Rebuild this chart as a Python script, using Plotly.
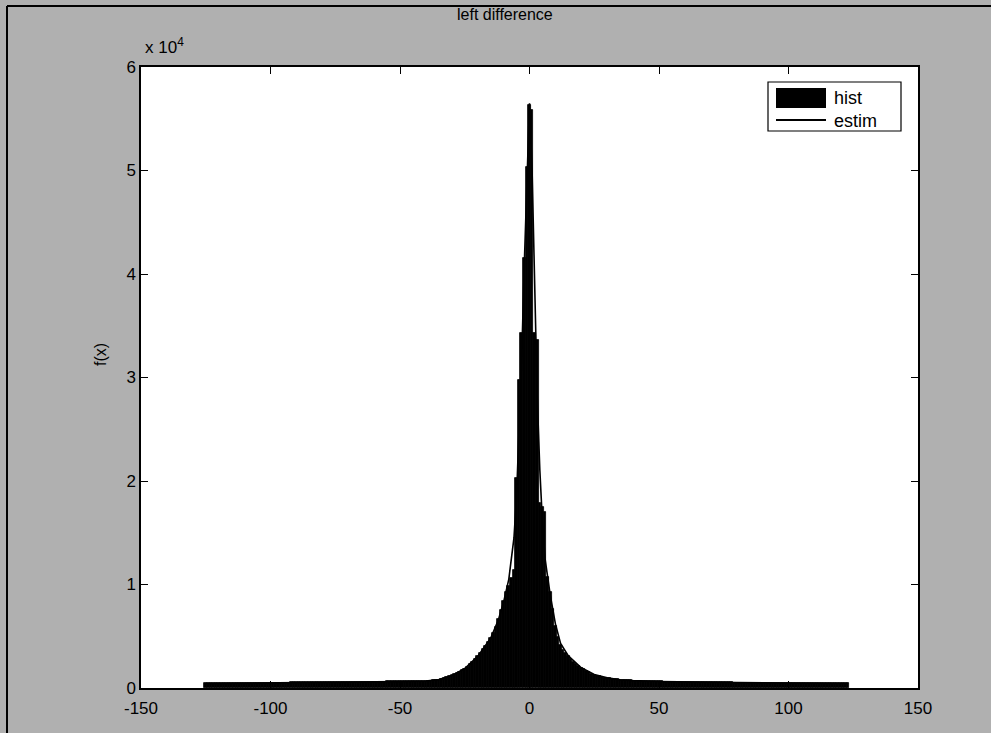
import plotly.graph_objects as go

# histogram counts, integer bins; left part ends at bin -1, right part starts at bin 0
hist_left = [
    450, 455, 455, 460, 460, 465, 465, 470, 470, 475, 475, 480, 480, 485, 485, 490, 490, 495, 495, 500,
    500, 505, 505, 510, 510, 515, 515, 520, 520, 525, 525, 530, 530, 535, 535, 540, 540, 545, 550, 550,
    555, 555, 560, 560, 565, 565, 570, 570, 575, 575, 580, 580, 585, 585, 590, 590, 595, 595, 600, 600,
    605, 605, 610, 610, 615, 615, 620, 620, 625, 625, 630, 630, 635, 635, 640, 640, 645, 645, 650, 650,
    655, 660, 665, 670, 675,
    685, 700, 715, 735, 770, 820, 880, 950, 1030, 1120,
    1220, 1330, 1450, 1580, 1720, 1880, 2060, 2280, 2520, 2790,
    3080, 3400, 3750, 4100, 4450, 4850, 5300, 5900, 6700, 7500,
    8400, 9300, 9900, 10600, 11400, 20300, 29800, 34300, 41500, 50300,
]
hist_right = [
    56300, 55800, 34300, 33600, 17900, 17500, 17000, 10700, 9300, 7600,
    6000, 4900, 4200, 3700, 3350, 3050, 2800, 2550, 2330, 2130,
    1950, 1790, 1640, 1500, 1390, 1290, 1200, 1120, 1060, 1010,
    980, 940, 900, 870, 840, 810, 790, 770, 750, 730, 715,
    705, 695, 685, 675, 670, 660, 655, 645, 640, 635, 630, 625, 620, 615, 610, 605, 600, 600, 595, 590,
    585, 585, 580, 575, 575, 570, 565, 565, 560, 555, 555, 550, 550, 545, 540, 540, 535, 535, 530, 530,
    525, 525, 520, 520, 515, 515, 510, 510, 505, 505, 500, 500, 500, 495, 495, 490, 490, 490, 485, 485,
    485, 480, 480, 480, 475, 475, 475, 470, 470, 470, 465, 465, 465, 460, 460, 460, 455, 455, 455, 450,
    450, 450, 445,
]
hist_x = list(range(-len(hist_left), 0)) + list(range(0, len(hist_right)))
hist_y = hist_left + hist_right

estim_x = [-125, -100, -80, -60, -50, -40, -35, -30, -25, -20, -15, -12, -10, -8, -6, -5, -4, -3, -2, -1,
           0, 1, 2, 3, 4, 5, 6, 8, 10, 12, 15, 20, 25, 30, 35, 40, 50, 60, 80, 100, 123]
estim_y = [420, 470, 520, 580, 620, 680, 820, 1200, 1880, 3050, 4800, 6600, 8300, 10500, 14500, 18500,
           24500, 32000, 41000, 50000, 56500, 50000, 38000, 28000, 21000, 16000, 12500, 9000, 6200,
           4300, 3100, 1950, 1300, 980, 800, 710, 630, 580, 520, 480, 440]

x_ticks = [-150, -100, -50, 0, 50, 100, 150]
y_ticks = [0, 10000, 20000, 30000, 40000, 50000, 60000]
y_ticktext = ["0", "1", "2", "3", "4", "5", "6"]

L, R, T, B = 141, 73, 67, 45
W, H = 991, 733
pw, ph = W - L - R, H - T - B


def px(x):
    return (x - L) / pw


def py(y):
    return (H - B - y) / ph


fig = go.Figure()
fig.add_trace(go.Bar(x=hist_x, y=hist_y, width=1.0, marker=dict(color="black", line=dict(width=0.8, color="black")),
                     name="hist", showlegend=False))
fig.add_trace(go.Scatter(x=estim_x, y=estim_y, mode="lines", line=dict(color="black", width=1.6),
                         name="estim", showlegend=False))

font = "Liberation Sans, Arial, sans-serif"
axis_common = dict(showline=True, linecolor="black", linewidth=1.5, mirror="ticks",
                   ticks="inside", ticklen=7, tickcolor="black", tickwidth=1.2,
                   showgrid=False, zeroline=False,
                   tickfont=dict(family=font, size=17, color="black"))
fig.update_xaxes(range=[-150, 150], tickvals=x_ticks, ticktext=[str(v) for v in x_ticks],
                 ticklabelstandoff=4, **axis_common)
fig.update_yaxes(range=[0, 60000], tickvals=y_ticks, ticktext=y_ticktext, **axis_common)

shapes = [
    # legend box
    dict(type="rect", xref="paper", yref="paper", x0=px(768), x1=px(901), y0=py(131), y1=py(82),
         line=dict(color="black", width=1.2), fillcolor="white", layer="above"),
    dict(type="rect", xref="paper", yref="paper", x0=px(776), x1=px(826), y0=py(108), y1=py(88),
         line=dict(color="black", width=0), fillcolor="black", layer="above"),
    dict(type="line", xref="paper", yref="paper", x0=px(776), x1=px(826), y0=py(120), y1=py(120),
         line=dict(color="black", width=2), layer="above"),
    # frame of picture
    dict(type="line", xref="paper", yref="paper", x0=px(7), x1=px(991), y0=py(6), y1=py(6),
         line=dict(color="black", width=2)),
    dict(type="line", xref="paper", yref="paper", x0=px(7), x1=px(7), y0=py(6), y1=py(733),
         line=dict(color="black", width=2)),
]

annotations = [
    dict(text="hist", xref="paper", yref="paper", x=px(832), y=py(98), xanchor="left", yanchor="middle",
         showarrow=False, font=dict(family=font, size=18, color="black")),
    dict(text="estim", xref="paper", yref="paper", x=px(832), y=py(121), xanchor="left", yanchor="middle",
         showarrow=False, font=dict(family=font, size=18, color="black")),
    dict(text="left difference", xref="paper", yref="paper", x=px(505), y=py(14), xanchor="center",
         yanchor="middle", showarrow=False, font=dict(family=font, size=16, color="black")),
    dict(text="x 10<sup>4</sup>", xref="paper", yref="paper", x=px(143), y=py(46), xanchor="left",
         yanchor="middle", showarrow=False, font=dict(family=font, size=17, color="black")),
    dict(text="f(x)", xref="paper", yref="paper", x=px(101), y=py(355), xanchor="center",
         yanchor="middle", showarrow=False, textangle=-90, font=dict(family=font, size=16, color="black")),
]

fig.update_layout(
    width=W, height=H,
    margin=dict(l=L, r=R, t=T, b=B),
    paper_bgcolor="#b0b0b0", plot_bgcolor="white",
    bargap=0, showlegend=False,
    shapes=shapes, annotations=annotations,
)

fig.write_html("out.html")
